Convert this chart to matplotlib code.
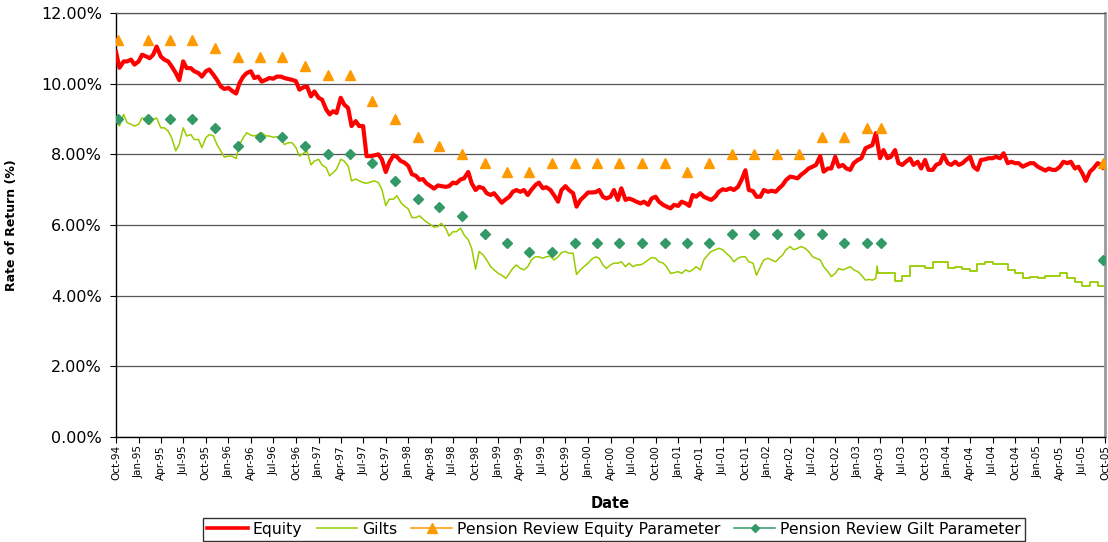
import matplotlib
matplotlib.use('Agg')
import matplotlib.pyplot as plt
import matplotlib.dates as mdates
import matplotlib.ticker as mticker
from matplotlib.lines import Line2D
import pandas as pd

plt.rcParams['font.family'] = ['DejaVu Sans']

# ---------------- data ----------------
# Equity rate of return (%), semi-monthly readings from Oct-94, last value = final data date
equity_values = [
    10.90, 10.45, 10.63, 10.63, 10.68, 10.54, 10.63, 10.82, 10.77, 10.72,
    10.82, 11.05, 10.77, 10.68, 10.63, 10.49, 10.30, 10.10, 10.63, 10.44,
    10.44, 10.35, 10.30, 10.20, 10.35, 10.40, 10.25, 10.11, 9.92, 9.85,
    9.88, 9.80, 9.72, 10.02, 10.20, 10.30, 10.35, 10.16, 10.20, 10.06,
    10.11, 10.16, 10.14, 10.20, 10.20, 10.16, 10.13, 10.11, 10.07, 9.83,
    9.90, 9.92, 9.64, 9.78, 9.60, 9.55, 9.27, 9.13, 9.22, 9.17,
    9.60, 9.41, 9.31, 8.80, 8.94, 8.80, 8.80, 7.95, 7.95, 7.97,
    8.00, 7.86, 7.50, 7.77, 7.97, 7.93, 7.81, 7.77, 7.67, 7.44,
    7.39, 7.28, 7.30, 7.18, 7.10, 7.03, 7.12, 7.10, 7.08, 7.10,
    7.20, 7.18, 7.29, 7.32, 7.50, 7.18, 6.99, 7.08, 7.04, 6.90,
    6.85, 6.90, 6.75, 6.63, 6.73, 6.80, 6.94, 6.99, 6.94, 6.99,
    6.85, 6.99, 7.13, 7.20, 7.04, 7.07, 6.99, 6.85, 6.66, 6.99,
    7.10, 6.99, 6.90, 6.52, 6.71, 6.80, 6.92, 6.92, 6.93, 6.99,
    6.80, 6.75, 6.80, 6.99, 6.71, 7.04, 6.71, 6.75, 6.71, 6.66,
    6.61, 6.66, 6.57, 6.75, 6.80, 6.66, 6.57, 6.52, 6.47, 6.57,
    6.54, 6.66, 6.61, 6.54, 6.85, 6.80, 6.90, 6.80, 6.75, 6.71,
    6.80, 6.94, 7.01, 6.99, 7.04, 6.99, 7.08, 7.27, 7.55, 6.99,
    6.96, 6.80, 6.80, 6.99, 6.94, 6.97, 6.94, 7.04, 7.13, 7.27,
    7.37, 7.35, 7.32, 7.42, 7.51, 7.60, 7.65, 7.70, 7.95, 7.51,
    7.60, 7.60, 7.93, 7.65, 7.70, 7.60, 7.56, 7.75, 7.84, 7.89,
    8.17, 8.22, 8.26, 8.60, 7.89, 8.12, 7.89, 7.93, 8.12, 7.75,
    7.70, 7.79, 7.88, 7.70, 7.79, 7.60, 7.84, 7.56, 7.56, 7.70,
    7.75, 7.98, 7.75, 7.70, 7.79, 7.70, 7.75, 7.84, 7.93, 7.65,
    7.56, 7.84, 7.86, 7.89, 7.89, 7.93, 7.89, 8.03, 7.75, 7.79,
    7.75, 7.75, 7.65, 7.70, 7.75, 7.75, 7.65, 7.60, 7.54, 7.60,
    7.56, 7.56, 7.65, 7.79, 7.75, 7.79, 7.60, 7.65, 7.46, 7.25,
    7.51, 7.60, 7.75, 7.70, 7.62,
]
end_date = '2005-09-23'

# Gilts rate of return (%), semi-monthly readings Oct-94 .. Mar-03, then a spike reading
gilt_values = [
    9.03, 8.80, 9.13, 8.90, 8.85, 8.80, 8.85, 9.03, 8.98, 8.85,
    8.98, 9.03, 8.75, 8.75, 8.66, 8.47, 8.10, 8.28, 8.75, 8.52,
    8.56, 8.42, 8.42, 8.19, 8.47, 8.56, 8.52, 8.28, 8.09, 7.92,
    7.95, 7.95, 7.88, 8.28, 8.47, 8.61, 8.54, 8.52, 8.56, 8.61,
    8.52, 8.52, 8.48, 8.50, 8.42, 8.28, 8.33, 8.33, 8.19, 7.95,
    8.03, 8.09, 7.70, 7.81, 7.86, 7.70, 7.62, 7.39, 7.48, 7.58,
    7.86, 7.81, 7.67, 7.25, 7.30, 7.25, 7.20, 7.18, 7.22, 7.25,
    7.20, 7.01, 6.55, 6.73, 6.73, 6.83, 6.64, 6.54, 6.45, 6.21,
    6.21, 6.26, 6.17, 6.09, 6.01, 5.94, 5.96, 6.05, 5.91, 5.69,
    5.81, 5.81, 5.91, 5.72, 5.58, 5.34, 4.75, 5.25, 5.15, 5.01,
    4.82, 4.73, 4.63, 4.58, 4.49, 4.63, 4.77, 4.87, 4.77, 4.73,
    4.82, 5.01, 5.10, 5.10, 5.06, 5.10, 5.12, 5.01, 5.10, 5.22,
    5.25, 5.20, 5.20, 4.60, 4.73, 4.82, 4.92, 5.03, 5.10, 5.06,
    4.87, 4.77, 4.87, 4.92, 4.92, 4.96, 4.82, 4.92, 4.82, 4.87,
    4.87, 4.92, 5.01, 5.08, 5.06, 4.96, 4.92, 4.82, 4.63, 4.65,
    4.68, 4.63, 4.73, 4.68, 4.73, 4.82, 4.73, 5.01, 5.15, 5.25,
    5.30, 5.34, 5.30, 5.20, 5.10, 4.96, 5.06, 5.10, 5.10, 4.96,
    4.92, 4.58, 4.82, 5.01, 5.06, 5.01, 4.96, 5.06, 5.15, 5.30,
    5.39, 5.30, 5.34, 5.39, 5.34, 5.25, 5.10, 5.06, 5.01, 4.82,
    4.68, 4.54, 4.63, 4.77, 4.73, 4.77, 4.82, 4.73, 4.68, 4.58,
    4.44, 4.46, 4.44, 4.49,
]
gilt_spike_date = '2003-03-20'
gilt_spike_value = 4.84

# Gilts after Mar-03: stepped (monthly) values
gilt_step_dates = [
    '2003-03-24', '2003-04-01', '2003-05-01', '2003-06-01', '2003-07-01', '2003-08-01',
    '2003-09-01', '2003-10-01', '2003-11-01', '2003-12-01', '2004-01-01', '2004-02-01',
    '2004-03-01', '2004-04-01', '2004-05-01', '2004-06-01', '2004-07-01', '2004-08-01',
    '2004-09-01', '2004-10-01', '2004-11-01', '2004-12-01', '2005-01-01', '2005-02-01',
    '2005-03-01', '2005-04-01', '2005-05-01', '2005-06-01', '2005-07-01', '2005-08-01',
    '2005-09-01', '2005-09-23',
]
gilt_step_values = [
    4.65, 4.65, 4.65, 4.42, 4.57, 4.84,
    4.84, 4.79, 4.96, 4.96, 4.77, 4.80,
    4.75, 4.70, 4.90, 4.94, 4.89, 4.89,
    4.73, 4.65, 4.49, 4.53, 4.49, 4.57,
    4.57, 4.63, 4.51, 4.40, 4.28, 4.40,
    4.27, 4.27,
]

# Pension Review parameters
param_dates = [
    '1994-10-08',
    '1995-02-07', '1995-05-07', '1995-08-07', '1995-11-07',
    '1996-02-07', '1996-05-07', '1996-08-07', '1996-11-07',
    '1997-02-07', '1997-05-07', '1997-08-07', '1997-11-07',
    '1998-02-07', '1998-05-07', '1998-08-07', '1998-11-07',
    '1999-02-07', '1999-05-07', '1999-08-07', '1999-11-07',
    '2000-02-07', '2000-05-07', '2000-08-07', '2000-11-07',
    '2001-02-07', '2001-05-07', '2001-08-07', '2001-11-07',
    '2002-02-07', '2002-05-07', '2002-08-07', '2002-11-07',
    '2003-02-07', '2003-04-04', '2005-09-23',
]
equity_param = [
    11.25,
    11.25, 11.25, 11.25, 11.00,
    10.75, 10.75, 10.75, 10.50,
    10.25, 10.25, 9.50, 9.00,
    8.50, 8.25, 8.00, 7.75,
    7.50, 7.50, 7.75, 7.75,
    7.75, 7.75, 7.75, 7.75,
    7.50, 7.75, 8.00, 8.00,
    8.00, 8.00, 8.50, 8.50,
    8.75, 8.75, 7.75,
]
gilt_param = [
    9.00,
    9.00, 9.00, 9.00, 8.75,
    8.25, 8.50, 8.50, 8.25,
    8.00, 8.00, 7.75, 7.25,
    6.75, 6.50, 6.25, 5.75,
    5.50, 5.25, 5.25, 5.50,
    5.50, 5.50, 5.50, 5.50,
    5.50, 5.50, 5.75, 5.75,
    5.75, 5.75, 5.75, 5.50,
    5.50, 5.50, 5.00,
]

series_labels = ['Equity', 'Gilts', 'Pension Review Equity Parameter', 'Pension Review Gilt Parameter']
y_ticks = [0, 2, 4, 6, 8, 10, 12]

# ---------------- build dates ----------------
equity_dates = list(pd.date_range('1994-10-01', periods=len(equity_values) - 1, freq='SMS')) + [pd.Timestamp(end_date)]
gilt_dates = list(pd.date_range('1994-10-01', periods=len(gilt_values), freq='SMS')) + [pd.Timestamp(gilt_spike_date)]
gilt_line_vals = gilt_values + [gilt_spike_value]
# join daily part to the stepped part
gilt_dates = gilt_dates + [pd.Timestamp(gilt_step_dates[0])]
gilt_line_vals = gilt_line_vals + [gilt_step_values[0]]
step_dates = [pd.Timestamp(d) for d in gilt_step_dates]
p_dates = [pd.Timestamp(d) for d in param_dates]

RED = '#FF0000'
GREEN = '#99CC00'
ORANGE = '#FF9900'
SEA = '#339966'

fig = plt.figure(figsize=(11.08, 5.42), dpi=100)
ax = fig.add_axes([116 / 1108, 1 - 437 / 542, (1105 - 116) / 1108, (437 - 13) / 542])

ax.plot(gilt_dates, gilt_line_vals, color=GREEN, lw=1.1, zorder=3)
ax.plot(step_dates, gilt_step_values, color=GREEN, lw=1.3, drawstyle='steps-post', zorder=3)
ax.plot(equity_dates, equity_values, color=RED, lw=3.0, zorder=4)
ax.plot(p_dates, equity_param, linestyle='none', marker='^', ms=7.5, color=ORANGE, mec=ORANGE, zorder=5)
ax.plot(p_dates, gilt_param, linestyle='none', marker='D', ms=5, color=SEA, mec=SEA, zorder=5)

# axes
ax.set_ylim(0, 12)
ax.set_xlim(mdates.date2num(pd.Timestamp('1994-10-01')), mdates.date2num(pd.Timestamp('2005-10-01')))
ax.set_yticks(y_ticks)
ax.yaxis.set_major_formatter(mticker.FuncFormatter(lambda v, p: f'{v:.2f}%'))
qticks = pd.date_range('1994-10-01', '2005-10-01', freq='QS-JAN')
ax.set_xticks([mdates.date2num(d) for d in qticks])
ax.set_xticklabels([d.strftime('%b-%y') for d in qticks], rotation=90, fontsize=7.5)
ax.tick_params(axis='x', length=4, width=0.8, pad=2, direction='out')
ax.tick_params(axis='y', length=4, width=0.8, pad=6, direction='out', labelsize=11.5)

ax.grid(axis='y', color='#555555', lw=0.9)
ax.set_axisbelow(True)
for s in ['left', 'bottom']:
    ax.spines[s].set_color('black')
    ax.spines[s].set_linewidth(1.0)
ax.spines['top'].set_color('#555555')
ax.spines['top'].set_linewidth(0.9)
ax.spines['right'].set_color('#999999')
ax.spines['right'].set_linewidth(2.0)

ax.set_ylabel('Rate of Return (%)', fontsize=9, fontweight='bold')
ax.yaxis.set_label_coords(-(116 - 18) / 989, 0.5)
ax.set_xlabel('Date', fontsize=10.5, fontweight='bold')
ax.xaxis.set_label_coords(0.5, -(496 - 437) / 424)

handles = [
    Line2D([], [], color=RED, lw=2.6),
    Line2D([], [], color=GREEN, lw=1.1),
    Line2D([], [], color=ORANGE, lw=1.1, marker='^', ms=7),
    Line2D([], [], color=SEA, lw=1.1, marker='D', ms=4.5),
]
leg = fig.legend(handles, series_labels, loc='lower center', bbox_to_anchor=(614 / 1108, -0.012),
                 ncol=4, fontsize=11.3, frameon=True, fancybox=False, edgecolor='black',
                 borderpad=0.25, handlelength=2.6, handletextpad=0.3, columnspacing=0.9)
leg.get_frame().set_linewidth(1.0)

fig.savefig('out.png', dpi=100)
